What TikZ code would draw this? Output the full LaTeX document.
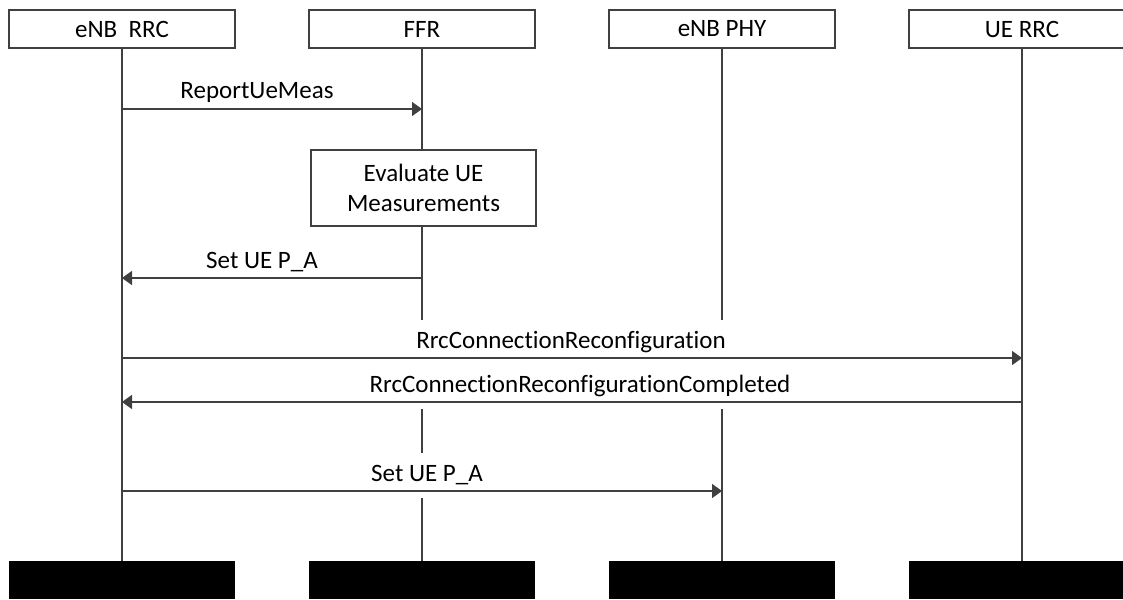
\documentclass[tikz,border=0pt]{standalone}
\usepackage{fontspec}
\setmainfont{Carlito}[Ligatures={NoCommon,NoContextual}]
\usetikzlibrary{arrows.meta}

\begin{document}
\begin{tikzpicture}
 [x=1pt, y=-1pt,
  line/.style={draw=black!75, line width=1.6pt},
  actor/.style={line, rectangle, fill=white, minimum width=226pt, minimum height=38pt, inner sep=0pt, font=\fontsize{25}{30}\selectfont},
  sink/.style={rectangle, fill=black, minimum width=226pt, minimum height=38pt, inner sep=0pt},
  msg/.style={fill=white, anchor=base, yshift=10pt, inner xsep=2pt, inner ysep=0pt, text height=28pt, text depth=17pt, font=\fontsize{25}{30}\selectfont},
  call/.style={line, -{Triangle[length=10pt,width=14pt]}}]

\clip (0,0) rectangle (1123,599);
\fill[white] (0,0) rectangle (1123,599);

% heads
\node[actor] (rrc) at (122,29) {eNB~ RRC};
\node[actor] (ffr) at (422,29) {FFR};
\node[actor] (phy) at (722,29) {eNB PHY};
\node[actor] (ue) at (1022,29) {UE RRC};

% feet
\node[sink] (rrcend) at (122,580) {};
\node[sink] (ffrend) at (422,580) {};
\node[sink] (phyend) at (722,580) {};
\node[sink] (ueend) at (1022,580) {};

% lifelines
\draw[line] (rrc) -- (rrcend);
\draw[line] (ffr) -- (ffrend);
\draw[line] (phy) -- (phyend);
\draw[line] (ue) -- (ueend);

\node[actor, minimum width=225pt, minimum height=76pt, align=center] (eval) at (423.5,188) {Evaluate UE\\Measurements};

% message rows
\coordinate (m1) at (0,109);
\coordinate (m2) at (0,278);
\coordinate (m3) at (0,358);
\coordinate (m4) at (0,402);
\coordinate (m5) at (0,491);

\path (rrc |- m1) -- (ffr |- m1) node[msg, midway, xshift=-15pt] {ReportUeMeas};
\path (ffr |- m2) -- (rrc |- m2) node[msg, midway, xshift=-10pt] {Set UE P\_A};
\path (rrc |- m3) -- (ue |- m3) node[msg, midway, xshift=-1pt] {RrcConnectionReconfiguration};
\path (ue |- m4) -- (rrc |- m4) node[msg, midway, xshift=8pt] {RrcConnectionReconfigurationCompleted};
\path (rrc |- m5) -- (phy |- m5) node[msg, midway, xshift=5pt] {Set UE P\_A};

\draw[call] (rrc |- m1) -- (ffr |- m1);
\draw[call] (ffr |- m2) -- (rrc |- m2);
\draw[call] (rrc |- m3) -- (ue |- m3);
\draw[call] (ue |- m4) -- (rrc |- m4);
\draw[call] (rrc |- m5) -- (phy |- m5);

\end{tikzpicture}
\end{document}
